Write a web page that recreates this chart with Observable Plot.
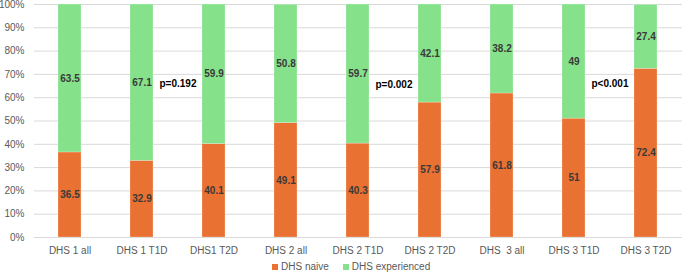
<!DOCTYPE html>
<html>
<head>
<meta charset="utf-8">
<script src="https://cdn.jsdelivr.net/npm/d3@7"></script>
<script src="https://cdn.jsdelivr.net/npm/@observablehq/plot@0.6"></script>
<style>
  html, body { margin: 0; padding: 0; background: #fff; }
  body { width: 685px; font-family: "Liberation Sans", Arial, sans-serif; }
  #chart svg text { white-space: pre; }
  .legend { display: flex; justify-content: flex-start; align-items: center; gap: 0; height: 17px;
            padding-left: 272px; font-size: 10px; color: #595959; }
  .legend .item { display: flex; align-items: center; margin-right: 14px; }
  .legend .sw { width: 6px; height: 6px; margin-right: 3px; }
</style>
</head>
<body>
<div id="chart"></div>
<div class="legend" id="legend"></div>
<script>
// Group labels along the x axis
const groups = ["DHS 1 all", "DHS 1 T1D", "DHS1 T2D", "DHS 2 all", "DHS 2 T1D", "DHS 2 T2D", "DHS  3 all", "DHS 3 T1D", "DHS 3 T2D"];
// Share of patients (%) in each group
const naive = [36.5, 32.9, 40.1, 49.1, 40.3, 57.9, 61.8, 51, 72.4];
const experienced = [63.5, 67.1, 59.9, 50.8, 59.7, 42.1, 38.2, 49, 27.4];
// Series names and colours
const seriesNames = ["DHS naive", "DHS experienced"];
const seriesColors = ["#E97132", "#86E18B"];
// p-values comparing T1D and T2D, shown between those two bars
const pGroups = ["DHS 1 T1D", "DHS 2 T1D", "DHS 3 T1D"];
const pLabels = ["p=0.192", "p=0.002", "p<0.001"];
const pY = [66, 65.5, 66];
const yTicks = [0, 10, 20, 30, 40, 50, 60, 70, 80, 90, 100];

const rows = [];
groups.forEach((g, i) => {
  rows.push({group: g, series: seriesNames[0], value: naive[i]});
  rows.push({group: g, series: seriesNames[1], value: experienced[i]});
});
const pRows = pGroups.map((g, i) => ({group: g, label: pLabels[i], y: pY[i]}));

const plot = Plot.plot({
  width: 685,
  height: 258,
  marginTop: 4,
  marginBottom: 21,
  marginLeft: 34,
  marginRight: 3,
  style: {fontFamily: "Liberation Sans, Arial, sans-serif", fontSize: "10px", color: "#595959", background: "#fff"},
  x: {domain: groups, paddingInner: 0.68, paddingOuter: 0.34, label: null, tickSize: 0, tickPadding: 9},
  y: {domain: [0, 100], ticks: yTicks, tickFormat: d => d + "%", label: null, tickSize: 0, tickPadding: 10},
  color: {domain: seriesNames, range: seriesColors},
  marks: [
    Plot.gridY(yTicks, {stroke: "#d9d9d9", strokeOpacity: 1, strokeWidth: 1}),
    Plot.barY(rows, Plot.stackY({x: "group", y: "value", z: "series", fill: "series", order: seriesNames, stroke: "#fff", strokeOpacity: 0.3, strokeWidth: 0.75})),
    Plot.text(rows, Plot.stackY({x: "group", y: "value", z: "series", order: seriesNames, text: d => String(d.value), fill: "#3a3a3a", fontWeight: "bold", fontSize: 10})),
    Plot.text(pRows, {x: "group", y: "y", text: "label", dx: 36, fill: "#000", fontWeight: "bold", fontSize: 10})
  ]
});
document.getElementById("chart").appendChild(plot);

const legend = document.getElementById("legend");
seriesNames.forEach((name, i) => {
  const item = document.createElement("div");
  item.className = "item";
  const sw = document.createElement("span");
  sw.className = "sw";
  sw.style.background = seriesColors[i];
  const label = document.createElement("span");
  label.textContent = name;
  item.appendChild(sw);
  item.appendChild(label);
  legend.appendChild(item);
});
</script>
</body>
</html>
